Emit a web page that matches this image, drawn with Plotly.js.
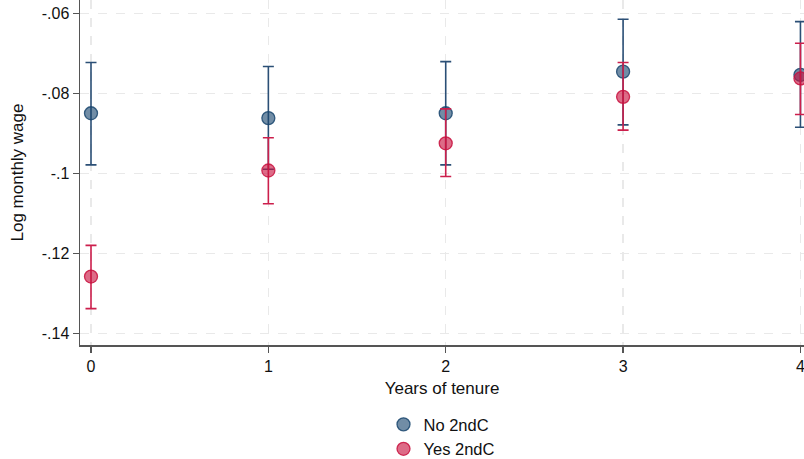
<!DOCTYPE html>
<html>
<head>
<meta charset="utf-8">
<script src="https://cdn.plot.ly/plotly-3.0.1.min.js"></script>
<style>html,body{margin:0;padding:0;background:#fff;} #chart{width:804px;height:459px;}</style>
</head>
<body>
<div id="chart"></div>
<script>
const years = [0, 1, 2, 3, 4];
const noEst = [-0.0850, -0.0862, -0.0850, -0.0746, -0.0754];
const noHi  = [-0.0723, -0.0733, -0.0721, -0.0615, -0.0621];
const noLo  = [-0.0979, -0.0990, -0.0979, -0.0879, -0.0885];
const yesEst = [-0.1258, -0.0993, -0.0925, -0.0809, -0.0763];
const yesHi  = [-0.1180, -0.0911, -0.0839, -0.0723, -0.0675];
const yesLo  = [-0.1338, -0.1076, -0.1008, -0.0892, -0.0853];
const yTicks = [-0.14, -0.12, -0.10, -0.08, -0.06];
const yTickText = ["-.14", "-.12", "-.1", "-.08", "-.06"];
const seriesNames = ["No 2ndC", "Yes 2ndC"];

function mk(name, est, hi, lo, fill, edge, bar) {
  return {
    type: 'scatter', mode: 'markers', name: name,
    x: years, y: est,
    error_y: {type: 'data', symmetric: false,
      array: hi.map((h, i) => h - est[i]),
      arrayminus: lo.map((l, i) => est[i] - l),
      color: bar, thickness: 1.6, width: 5.5},
    marker: {size: 13, color: fill, line: {color: edge, width: 1.3}}
  };
}
const data = [
  mk(seriesNames[0], noEst, noHi, noLo, 'rgba(26,71,111,0.62)', 'rgba(26,71,111,0.85)', '#2b4f76'),
  mk(seriesNames[1], yesEst, yesHi, yesLo, 'rgba(200,16,62,0.62)', 'rgba(200,16,62,0.85)', '#cc1f4c')
];
const fam = '"Liberation Sans", Arial, sans-serif';
const layout = {
  width: 804, height: 459,
  margin: {l: 80, r: 0, t: 0, b: 114, autoexpand: false},
  paper_bgcolor: '#fff', plot_bgcolor: '#fff',
  font: {family: fam, color: '#111', size: 16},
  showlegend: true,
  legend: {orientation: 'v', x: 0.5, xanchor: 'center', xref: 'paper',
    y: 0.113, yanchor: 'top', yref: 'container',
    traceorder: 'normal',
    font: {family: fam, size: 16.5, color: '#111'}},
  xaxis: {
    range: [-0.062, 4.02], automargin: false,
    tickvals: years, ticktext: years.map(String),
    ticklabeloverflow: 'allow',
    ticks: 'outside', ticklen: 6, tickcolor: '#555', tickwidth: 1.3,
    showline: true, linecolor: '#555', linewidth: 1.5,
    showgrid: true, gridcolor: '#e9e9e9', griddash: 'dash', gridwidth: 1.2,
    zeroline: false,
    tickfont: {family: fam, size: 16},
    title: {text: 'Years of tenure', font: {family: fam, size: 17}, standoff: 8}
  },
  yaxis: {
    range: [-0.1429, -0.0567], automargin: false,
    tickvals: yTicks, ticktext: yTickText,
    ticks: 'outside', ticklen: 6, tickcolor: '#555', tickwidth: 1.3,
    showline: true, linecolor: '#555', linewidth: 1.5,
    showgrid: true, gridcolor: '#e9e9e9', griddash: 'dash', gridwidth: 1.2,
    zeroline: false,
    tickfont: {family: fam, size: 16},
    title: {text: 'Log monthly wage', font: {family: fam, size: 17}, standoff: 14}
  }
};
Plotly.newPlot('chart', data, layout, {displayModeBar: false, staticPlot: true});
</script>
</body>
</html>
